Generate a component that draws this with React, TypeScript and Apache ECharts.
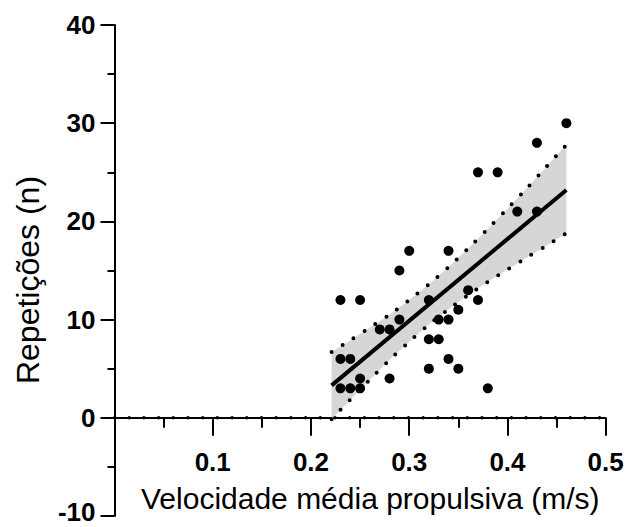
import React, { useEffect, useRef } from "react";
import * as echarts from "echarts";

// Scatter data: mean propulsive velocity (m/s) vs repetitions (n)
const velocity = [
  0.46, 0.43, 0.37, 0.39, 0.41, 0.43, 0.3, 0.34, 0.29, 0.23, 0.25, 0.32, 0.36,
  0.37, 0.35, 0.29, 0.27, 0.28, 0.33, 0.34, 0.32, 0.33, 0.23, 0.24, 0.34, 0.32,
  0.35, 0.25, 0.28, 0.23, 0.24, 0.25, 0.38,
];
const repetitions = [
  30, 28, 25, 25, 21, 21, 17, 17, 15, 12, 12, 12, 13, 12, 11, 10, 9, 9, 10, 10,
  8, 8, 6, 6, 6, 5, 5, 4, 4, 3, 3, 3, 3,
];

// Regression line endpoints
const fitX = [0.221, 0.46];
const fitY = [3.3, 23.2];

// Confidence band
const bandX = [0.221, 0.24, 0.26, 0.28, 0.3, 0.32, 0.34, 0.36, 0.38, 0.4, 0.42, 0.44, 0.46];
const bandUpper = [6.7, 7.9, 9.2, 10.5, 12.0, 13.6, 15.35, 17.25, 19.25, 21.3, 23.4, 25.6, 27.8];
const bandLower = [-0.15, 1.85, 3.9, 5.9, 7.75, 9.5, 11.05, 12.5, 13.85, 15.1, 16.35, 17.55, 18.8];

// Axis ticks
const xTicks = [0, 0.1, 0.2, 0.3, 0.4, 0.5];
const yTicks = [-10, 0, 10, 20, 30, 40];

const FONT = "'Liberation Sans', Arial, Helvetica, sans-serif";

const GRID_TOP = 25;
const GRID_BOTTOM = 11;
const CHART_H = 527;

export default function App() {
  const ref = useRef<HTMLDivElement>(null);

  useEffect(() => {
    if (!ref.current) return;
    const chart = echarts.init(ref.current, undefined, { renderer: "svg" });

    const tickLabelStyle = {
      color: "#000",
      fontFamily: FONT,
      fontWeight: "bold" as const,
      fontSize: 26,
    };

    const yMin = yTicks[0];
    const yMax = yTicks[yTicks.length - 1];
    const plotH = CHART_H - GRID_TOP - GRID_BOTTOM;
    // distance of the y=0 line above the grid bottom
    const zeroOffset = (plotH * (0 - yMin)) / (yMax - yMin);

    chart.setOption({
      animation: false,
      backgroundColor: "#fff",
      grid: {
        left: 114.5,
        right: 20.3,
        top: GRID_TOP,
        bottom: GRID_BOTTOM,
        containLabel: false,
        outerBoundsMode: "none",
      },
      xAxis: {
        type: "value",
        min: xTicks[0],
        max: xTicks[xTicks.length - 1],
        interval: 0.1,
        offset: -zeroOffset,
        splitLine: { show: false },
        axisLine: { show: true, onZero: false, lineStyle: { color: "#000", width: 2 } },
        axisTick: { show: true, length: 18, lineStyle: { color: "#000", width: 2 } },
        minorTick: { show: true, splitNumber: 2, length: 10, lineStyle: { color: "#000", width: 2 } },
        axisLabel: {
          ...tickLabelStyle,
          margin: 31,
          formatter: (v: number) => (v === 0 ? "" : v.toFixed(1)),
        },
      },
      yAxis: {
        type: "value",
        min: yMin,
        max: yMax,
        interval: 10,
        splitLine: { show: false },
        axisLine: { show: true, onZero: false, lineStyle: { color: "#000", width: 2 } },
        axisTick: { show: true, length: 14, lineStyle: { color: "#000", width: 2 } },
        minorTick: { show: true, splitNumber: 2, length: 7, lineStyle: { color: "#000", width: 2 } },
        axisLabel: {
          ...tickLabelStyle,
          margin: 19,
          formatter: (v: number) => (v === yMin ? `{lo|${v}}` : String(v)),
          rich: {
            lo: { ...tickLabelStyle, padding: [0, 0, 8, 0] },
          },
        },
      },
      graphic: [
        {
          type: "text",
          x: 141,
          y: 498,
          style: {
            text: "Velocidade média propulsiva (m/s)",
            fontFamily: FONT,
            fontSize: 30,
            fill: "#000",
            align: "left",
            verticalAlign: "middle",
          },
        },
        {
          type: "text",
          x: 28,
          y: 280,
          rotation: Math.PI / 2,
          style: {
            text: "Repetições (n)",
            fontFamily: FONT,
            fontSize: 32,
            fill: "#000",
            align: "center",
            verticalAlign: "middle",
          },
        },
      ],
      series: [
        {
          type: "custom",
          z: 1,
          silent: true,
          data: [[bandX[0], bandLower[0]]],
          renderItem: (params: any, api: any) => {
            if (params.dataIndex !== 0) return null;
            const pts: number[][] = [];
            for (let i = 0; i < bandX.length; i++) pts.push(api.coord([bandX[i], bandUpper[i]]));
            for (let i = bandX.length - 1; i >= 0; i--) pts.push(api.coord([bandX[i], bandLower[i]]));
            return {
              type: "polygon",
              shape: { points: pts, smooth: 0 },
              style: { fill: "#d6d6d6" },
            };
          },
        },
        {
          type: "line",
          z: 2,
          silent: true,
          symbol: "none",
          smooth: 0.3,
          data: bandX.map((x, i) => [x, bandUpper[i]]),
          lineStyle: { color: "#000", width: 4, type: [0, 13], cap: "round" },
        },
        {
          type: "line",
          z: 2,
          silent: true,
          symbol: "none",
          smooth: 0.3,
          data: bandX.map((x, i) => [x, bandLower[i]]),
          lineStyle: { color: "#000", width: 4, type: [0, 13], cap: "round" },
        },
        {
          type: "line",
          z: 2,
          silent: true,
          symbol: "none",
          data: [
            [xTicks[0], 0],
            [xTicks[xTicks.length - 1], 0],
          ],
          lineStyle: { color: "#000", width: 3.5, type: [0, 14.7], cap: "round" },
        },
        {
          type: "line",
          z: 3,
          silent: true,
          symbol: "none",
          data: fitX.map((x, i) => [x, fitY[i]]),
          lineStyle: { color: "#000", width: 4 },
        },
        {
          type: "scatter",
          z: 4,
          symbol: "circle",
          symbolSize: 10,
          itemStyle: { color: "#000", opacity: 1 },
          data: velocity.map((x, i) => [x, repetitions[i]]),
        },
      ],
    });

    return () => chart.dispose();
  }, []);

  return <div ref={ref} style={{ width: 626, height: 527, position: "absolute", left: 0, top: 0 }} />;
}
